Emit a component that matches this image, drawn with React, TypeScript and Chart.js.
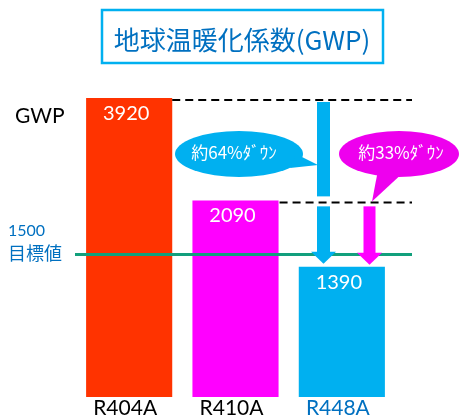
import React, { useEffect, useRef } from 'react';
import { Chart, registerables } from 'chart.js';

Chart.register(...registerables);

const categories = ['R404A', 'R410A', 'R448A'];
const gwpValues = [3920, 2090, 1390];
const barColors = ['#ff3300', '#ff00ff', '#00b0f0'];
const categoryColors = ['#000000', '#000000', '#0070c0'];
const targetValue = 1500;
const targetLabel = '目標値';
const titleText = '地球温暖化係数(GWP)';
const axisLabel = 'GWP';
const reductionLabels = ['約64%ﾀﾞｳﾝ', '約33%ﾀﾞｳﾝ'];
const yMin = 625;
const yMax = 4000;

const LATIN = 'Lato, "Noto Sans", sans-serif';
const CJK = '"Noto Sans CJK JP", sans-serif';

function ellipseCallout(ctx: CanvasRenderingContext2D, cx: number, cy: number, rx: number, ry: number, tail: number[][], color: string) {
  ctx.fillStyle = color;
  ctx.beginPath();
  ctx.ellipse(cx, cy, rx, ry, 0, 0, Math.PI * 2);
  ctx.fill();
  ctx.beginPath();
  ctx.moveTo(tail[0][0], tail[0][1]);
  ctx.lineTo(tail[1][0], tail[1][1]);
  ctx.lineTo(tail[2][0], tail[2][1]);
  ctx.closePath();
  ctx.fill();
}

function arrow(ctx: CanvasRenderingContext2D, cx: number, y0: number, y1: number, shaftW: number, headW: number, headH: number, color: string) {
  ctx.fillStyle = color;
  ctx.fillRect(cx - shaftW / 2, y0, shaftW, y1 - headH - y0 + 0.5);
  ctx.beginPath();
  ctx.moveTo(cx - headW / 2, y1 - headH);
  ctx.lineTo(cx + headW / 2, y1 - headH);
  ctx.lineTo(cx, y1);
  ctx.closePath();
  ctx.fill();
}

const overlay = {
  id: 'overlay',
  afterDatasetsDraw(chart: any) {
    const ctx: CanvasRenderingContext2D = chart.ctx;
    const yScale = chart.scales.y;
    const bars = chart.getDatasetMeta(0).data as any[];
    const xEnd = 412;
    ctx.save();

    // title box + title
    ctx.strokeStyle = '#00b0f0';
    ctx.lineWidth = 2.5;
    ctx.strokeRect(102, 10, 281, 53);
    ctx.fillStyle = '#0070c0';
    ctx.font = `26px ${CJK}`;
    ctx.textAlign = 'center';
    ctx.textBaseline = 'middle';
    ctx.fillText(titleText, 242, 40);

    // dashed reference lines
    const yTop1 = bars[0].y + 2;
    const yTop2 = bars[1].y + 2;
    ctx.strokeStyle = '#000000';
    ctx.lineWidth = 2;
    ctx.setLineDash([8, 5]);
    ctx.beginPath();
    ctx.moveTo(bars[0].x + bars[0].width / 2, yTop1);
    ctx.lineTo(xEnd, yTop1);
    ctx.moveTo(bars[1].x + bars[1].width / 2 + 1, yTop2);
    ctx.lineTo(xEnd, yTop2);
    ctx.stroke();
    ctx.setLineDash([]);

    // target line
    const yT = yScale.getPixelForValue(targetValue);
    ctx.strokeStyle = '#12a07c';
    ctx.lineWidth = 3;
    ctx.beginPath();
    ctx.moveTo(75, yT);
    ctx.lineTo(xEnd, yT);
    ctx.stroke();

    // arrows
    const blueX = 323.5;
    const magX = 369.5;
    ctx.fillStyle = '#00b0f0';
    ctx.fillRect(blueX - 6.5, yTop1 + 2, 13, yTop2 - 6 - (yTop1 + 2));
    arrow(ctx, blueX, yTop2 + 4, bars[2].y - 3, 13, 25, 12, '#00b0f0');
    arrow(ctx, magX, yTop2 + 4, bars[2].y - 2, 12, 25, 12, '#ff00ff');

    // callouts
    ellipseCallout(ctx, 239, 154, 64, 23, [[296, 154], [290, 168], [318, 165]], '#00b0f0');
    ellipseCallout(ctx, 399, 154, 60, 23, [[378, 170], [406, 170], [372, yTop2 - 1]], '#ee00ee');
    ctx.fillStyle = '#ffffff';
    ctx.font = `17px ${CJK}`;
    ctx.textAlign = 'center';
    ctx.textBaseline = 'middle';
    ctx.fillText(reductionLabels[0], 234, 153);
    ctx.fillText(reductionLabels[1], 401, 153);

    // bar value labels
    ctx.font = `20px ${LATIN}`;
    ctx.textBaseline = 'alphabetic';
    bars.forEach((b: any, i: number) => {
      ctx.fillText(String(gwpValues[i]), b.x - 3, b.y + 22);
    });

    // left labels
    ctx.textAlign = 'left';
    ctx.fillStyle = '#000000';
    ctx.font = `21px ${LATIN}`;
    ctx.fillText(axisLabel, 15, 123);
    ctx.fillStyle = '#0070c0';
    ctx.font = `16px ${LATIN}`;
    ctx.fillText(String(targetValue), 8, yT - 18);
    ctx.font = `18px ${CJK}`;
    ctx.textBaseline = 'middle';
    ctx.fillText(targetLabel, 8, yT - 1.5);

    ctx.restore();
  },
};

export default function App() {
  const ref = useRef<HTMLCanvasElement>(null);
  useEffect(() => {
    const chart = new Chart(ref.current as HTMLCanvasElement, {
      type: 'bar',
      data: {
        labels: categories,
        datasets: [
          {
            data: gwpValues,
            backgroundColor: barColors,
            borderWidth: 0,
            categoryPercentage: 1,
            barPercentage: 0.81,
          },
        ],
      },
      options: {
        responsive: false,
        animation: false,
        devicePixelRatio: 1,
        layout: { padding: { top: 94.7, left: 76, right: 65, bottom: 10 } },
        plugins: {
          legend: { display: false },
          tooltip: { enabled: false },
          title: { display: false },
        },
        scales: {
          x: {
            grid: { display: false, drawTicks: false },
            border: { display: false },
            ticks: {
              color: (c: any) => categoryColors[c.index] || '#000000',
              font: { family: LATIN, size: 21, lineHeight: 1.1 },
              padding: 0,
              labelOffset: -4,
              maxRotation: 0,
              autoSkip: false,
            },
          },
          y: {
            type: 'logarithmic',
            min: yMin,
            max: yMax,
            bounds: 'data',
            display: false,
          },
        },
      } as any,
      plugins: [overlay],
    });
    return () => chart.destroy();
  }, []);
  return (
    <div style={{ position: 'fixed', left: 0, top: 0, width: 460, height: 430, background: '#ffffff' }}>
      <canvas ref={ref} width={460} height={430} style={{ display: 'block' }} />
    </div>
  );
}
